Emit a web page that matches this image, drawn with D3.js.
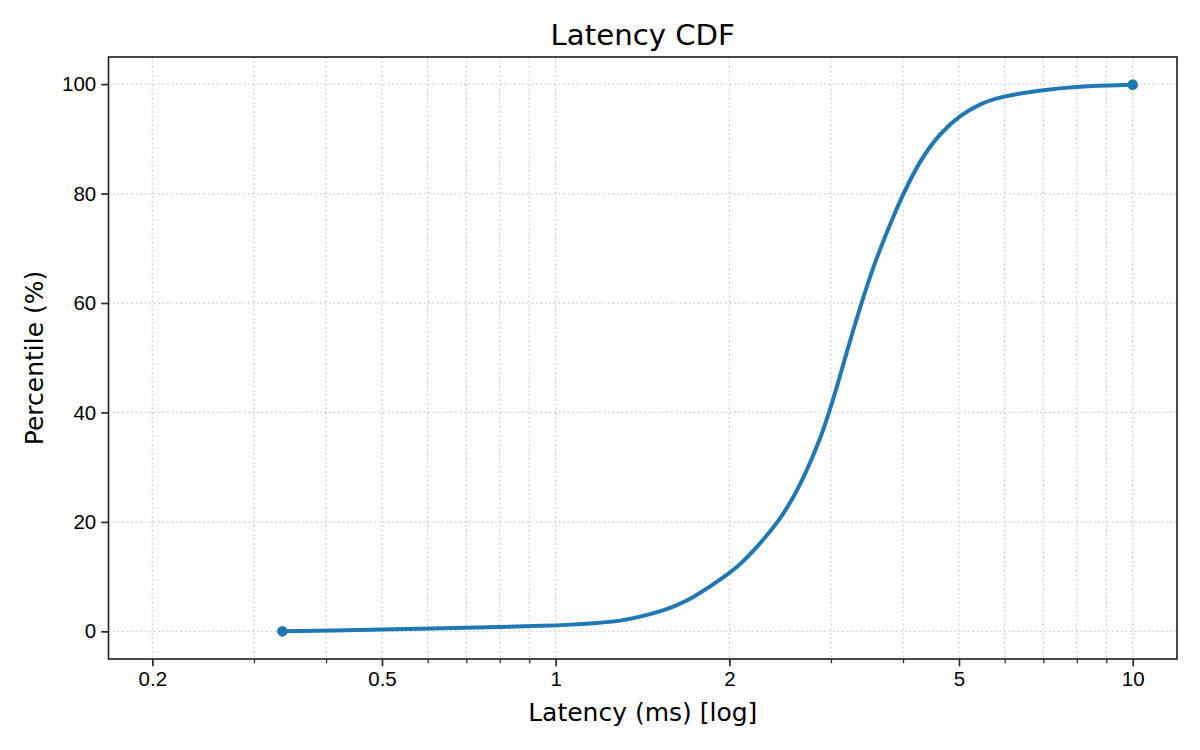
<!DOCTYPE html>
<html>
<head>
<meta charset="utf-8">
<script src="https://cdn.jsdelivr.net/npm/d3@7"></script>
<style>
    body { margin: 0; background: #fff; }
    svg { font-family: "DejaVu Sans", sans-serif; }
    .grid line { stroke: #cfcfcf; stroke-width: 1.3; stroke-dasharray: 1.7 2.8; }
    .axis path, .axis line { stroke: #262626; }
    .axis text { fill: #000; font-size: 20.5px; }
</style>
</head>
<body>
<svg id="chart" width="1200" height="750"></svg>
<script>
// percentile curve
const latency = [0.336, 1.13, 1.33, 1.52, 1.73, 1.98, 2.09, 2.26, 2.43, 2.58, 2.72, 2.87, 2.98, 3.09,
    3.19, 3.39, 3.60, 3.85, 4.00, 4.28, 4.63, 5.02, 5.44, 5.85, 6.91, 8.0, 10.0];
const percentile = [0, 1.0, 2.1, 3.5, 6.0, 10.3, 12.2, 16.0, 20.0, 24.3, 29.2, 35.0, 40.1, 45.6,
    50.8, 60.2, 68.4, 75.9, 79.9, 86.1, 91.0, 94.3, 96.4, 97.6, 98.9, 99.6, 99.9];

const xTicks = [0.2, 0.5, 1, 2, 5, 10];
const xMinor = [0.3, 0.4, 0.6, 0.7, 0.8, 0.9, 3, 4, 6, 7, 8, 9];
const yTicks = [0, 20, 40, 60, 80, 100];

const margin = {top: 57, right: 23, bottom: 91, left: 108.5};
const width = 1200 - margin.left - margin.right,
    height = 750 - margin.top - margin.bottom;

const svg = d3.select('#chart');
const g = svg.append('g').attr('transform', `translate(${margin.left},${margin.top})`);

const x = d3.scaleLog().domain([Math.pow(10, -0.775), Math.pow(10, 1.0768)]).range([0, width]);
const y = d3.scaleLinear().domain([-5.05, 104.95]).range([height, 0]);

// grid
const grid = g.append('g').attr('class', 'grid');
grid.selectAll('line.gx')
    .data(xTicks.concat(xMinor))
    .enter().append('line')
        .attr('x1', d => x(d)).attr('x2', d => x(d))
        .attr('y1', 0).attr('y2', height);
grid.selectAll('line.gy')
    .data(yTicks)
    .enter().append('line')
        .attr('x1', 0).attr('x2', width)
        .attr('y1', d => y(d)).attr('y2', d => y(d));

// axes
const xAxis = g.append('g').attr('class', 'axis').attr('transform', `translate(0,${height})`)
    .call(d3.axisBottom(x).tickValues(xTicks).tickFormat(d3.format('~g')).tickSize(7.3).tickPadding(5));
xAxis.selectAll('line').attr('stroke-width', 1.67);
xAxis.select('.domain').remove();

const xMinorAxis = g.append('g').attr('class', 'axis').attr('transform', `translate(0,${height})`)
    .call(d3.axisBottom(x).tickValues(xMinor).tickFormat('').tickSize(4.2));
xMinorAxis.selectAll('line').attr('stroke-width', 1.25);
xMinorAxis.select('.domain').remove();

const yAxis = g.append('g').attr('class', 'axis')
    .call(d3.axisLeft(y).tickValues(yTicks).tickSize(7.3).tickPadding(5));
yAxis.selectAll('line').attr('stroke-width', 1.67);
yAxis.select('.domain').remove();

// frame
g.append('rect')
    .attr('width', width).attr('height', height)
    .attr('fill', 'none').attr('stroke', '#262626').attr('stroke-width', 1.67);

// curve
const points = latency.map((d, i) => ({latency: d, pct: percentile[i]}));
const line = d3.line()
    .x(d => x(d.latency))
    .y(d => y(d.pct))
    .curve(d3.curveBasis);

g.append('path')
    .datum(points)
    .attr('fill', 'none')
    .attr('stroke', '#1f77b4')
    .attr('stroke-width', 4)
    .attr('stroke-linejoin', 'round')
    .attr('stroke-linecap', 'round')
    .attr('d', line);

g.selectAll('circle.end')
    .data([points[0], points[points.length - 1]])
    .enter().append('circle')
        .attr('class', 'end')
        .attr('cx', d => x(d.latency))
        .attr('cy', d => y(d.pct))
        .attr('r', 5.3)
        .attr('fill', '#1f77b4');

// labels
svg.append('text')
    .attr('x', margin.left + width / 2).attr('y', 45)
    .attr('text-anchor', 'middle').attr('font-size', 29.2).attr('fill', '#000')
    .text('Latency CDF');

svg.append('text')
    .attr('x', margin.left + width / 2).attr('y', 721)
    .attr('text-anchor', 'middle').attr('font-size', 25).attr('fill', '#000')
    .text('Latency (ms) [log]');

svg.append('text')
    .attr('transform', `translate(43,${margin.top + height / 2}) rotate(-90)`)
    .attr('text-anchor', 'middle').attr('font-size', 25).attr('fill', '#000')
    .text('Percentile (%)');
</script>
</body>
</html>
